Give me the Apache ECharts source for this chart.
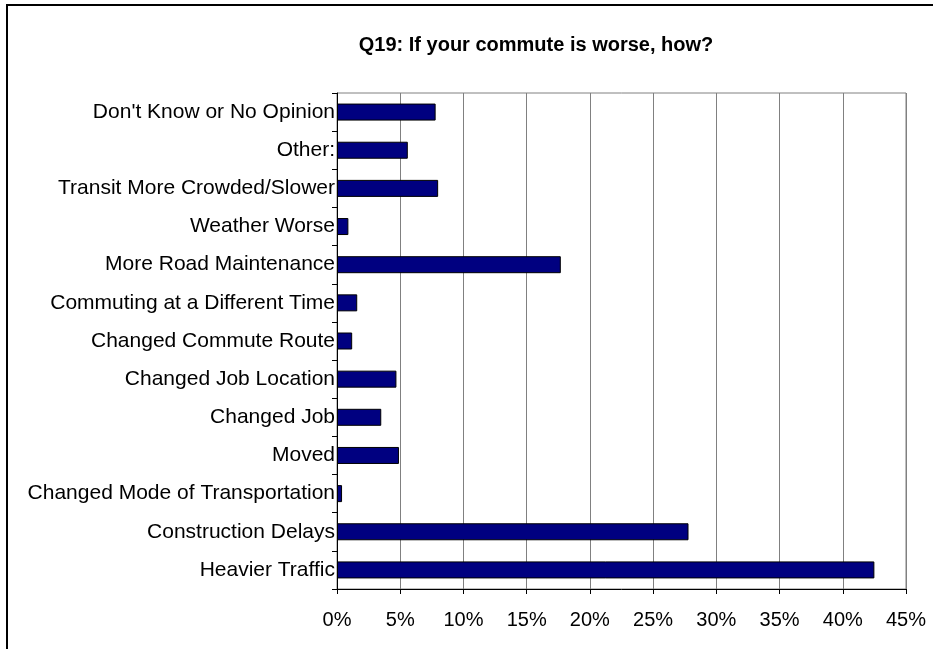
<!DOCTYPE html>
<html>
<head>
<meta charset="utf-8">
<script src="https://cdn.jsdelivr.net/npm/echarts@6/dist/echarts.min.js"></script>
<style>
html,body{margin:0;padding:0;background:#fff;}
#chart{width:933px;height:649px;}
</style>
</head>
<body>
<div id="chart"></div>
<script>
const titleText = "Q19: If your commute is worse, how?";
const categories = [
  "Don't Know or No Opinion",
  "Other:",
  "Transit More Crowded/Slower",
  "Weather Worse",
  "More Road Maintenance",
  "Commuting at a Different Time",
  "Changed Commute Route",
  "Changed Job Location",
  "Changed Job",
  "Moved",
  "Changed Mode of Transportation",
  "Construction Delays",
  "Heavier Traffic"
];
const values = [7.8, 5.6, 8.0, 0.9, 17.7, 1.6, 1.2, 4.7, 3.5, 4.9, 0.4, 27.8, 42.5];
const xTicks = [0, 5, 10, 15, 20, 25, 30, 35, 40, 45];

const chart = echarts.init(document.getElementById('chart'), null, {renderer: 'canvas'});
const font = 'Liberation Sans, Arial, sans-serif';
chart.setOption({
  animation: false,
  backgroundColor: '#ffffff',
  title: {
    text: titleText,
    left: 531,
    top: 30,
    textAlign: 'center',
    textStyle: {fontFamily: font, fontSize: 20, fontWeight: 'bold', color: '#000'}
  },
  graphic: [{
    type: 'rect',
    shape: {x: 7, y: 5, width: 1200, height: 1200},
    style: {fill: 'none', stroke: '#000', lineWidth: 2},
    silent: true
  }],
  grid: {
    left: 337, top: 93, width: 569, height: 496,
    show: true, borderColor: '#808080', borderWidth: 1, backgroundColor: 'transparent'
  },
  xAxis: {
    type: 'value',
    min: xTicks[0], max: xTicks[xTicks.length - 1], interval: 5,
    axisLine: {show: true, lineStyle: {color: '#000', width: 1}},
    axisTick: {show: true, length: 5, lineStyle: {color: '#000'}},
    splitLine: {show: true, lineStyle: {color: '#808080', width: 1}},
    axisLabel: {
      formatter: '{value}%', margin: 21,
      fontFamily: font, fontSize: 20, color: '#000'
    }
  },
  yAxis: {
    type: 'category',
    data: categories,
    inverse: true,
    axisLine: {show: true, lineStyle: {color: '#000', width: 1}},
    axisTick: {show: true, length: 5, lineStyle: {color: '#000'}},
    axisLabel: {margin: 2, fontFamily: font, fontSize: 21, color: '#000'},
    splitLine: {show: false}
  },
  series: [{
    type: 'bar',
    data: values,
    barWidth: 17,
    itemStyle: {color: '#000080', borderColor: '#000', borderWidth: 1}
  }]
});
</script>
</body>
</html>
